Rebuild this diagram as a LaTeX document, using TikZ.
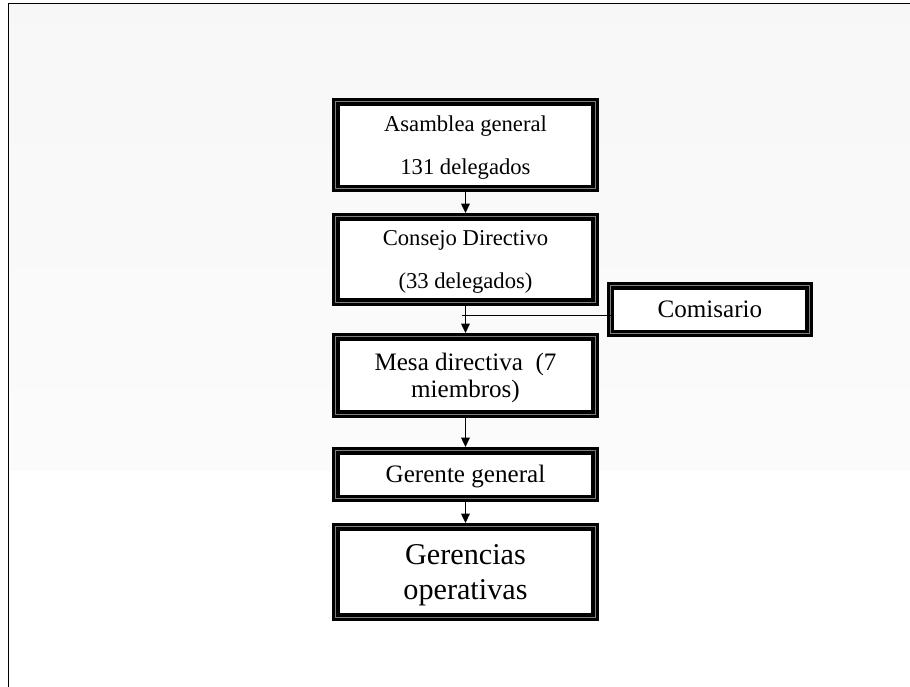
\documentclass[tikz,border=0pt]{standalone}
\usepackage{fontspec}
\setmainfont{Liberation Serif}
\usepackage{tikz}
\usetikzlibrary{arrows.meta, calc, positioning}
\tikzstyle{unit} = [rectangle, draw=black, line width=1.7pt, double=gray, double distance=0.6pt, fill=white, text centered, align=center, minimum width=137.5pt, outer sep=0pt, inner sep=0pt, text depth=-3pt]
\tikzstyle{tie} = [line width=0.4pt]
\tikzset{
	DARROW/.style={line width=0.7pt, shorten <=2pt, shorten >=2pt, arrows={-Triangle[length=5pt, width=4.6pt]}}
}

\begin{document}
\begin{tikzpicture}
					\useasboundingbox (0,0) rectangle (482.3pt,-364.1pt);
					\shade [top color=black!3, bottom color=black!1.5] (4.77pt,-2.12pt) rectangle (482.3pt,-249.6pt);
					\draw [line width=0.65pt] (4.5pt,-364.1pt) -- (4.5pt,-1.86pt) -- (482.3pt,-1.86pt);
					\node (asamblea) [unit, minimum height=45.8pt, font=\fontsize{12}{22.8}\selectfont] at (246.7pt,-76.9pt) {Asamblea general\\131 delegados};
					\node (consejo) [unit, minimum height=45.3pt, font=\fontsize{12}{22.8}\selectfont, below = 15.1pt of asamblea] {Consejo Directivo\\(33 delegados)};
					\node (mesa) [unit, minimum height=41pt, font=\fontsize{13.3}{14.3}\selectfont, text depth=-3.6pt, below = 18.3pt of consejo] {Mesa directiva~ (7\\miembros)};
					\node (gerente) [unit, minimum height=25.2pt, font=\fontsize{13.3}{14.3}\selectfont, text depth=0.3pt, below = 19.4pt of mesa] {Gerente general};
					\node (gerencias) [unit, minimum height=47.9pt, font=\fontsize{16}{18.5}\selectfont, text depth=-4pt, below = 15.1pt of gerente] {Gerencias\\operativas};
					\node (comisario) [unit, minimum width=105.2pt, minimum height=25.2pt, font=\fontsize{13.3}{14.3}\selectfont, text depth=-2.1pt, below right = 13.9pt and 8.2pt of consejo.east] {Comisario};
					\coordinate [below left = 6.8pt and 1.9pt of consejo.south] (tap);
					\draw [DARROW] (asamblea) -- (consejo);
					\draw [DARROW] (consejo) -- (mesa);
					\draw [DARROW] (mesa) -- (gerente);
					\draw [DARROW] (gerente) -- (gerencias);
					\draw [tie] (comisario.west |- tap) -- (tap);
				\end{tikzpicture}
\end{document}
